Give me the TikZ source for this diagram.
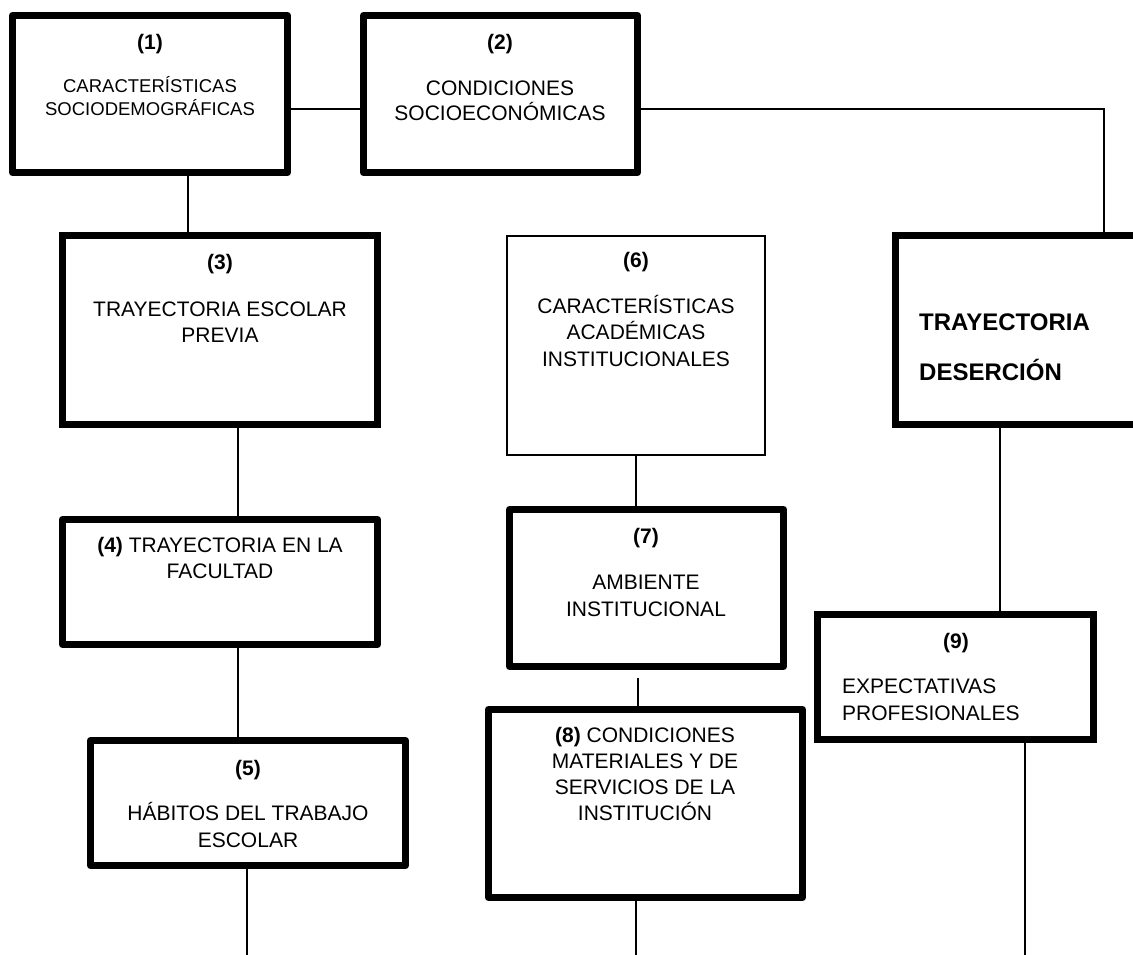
\documentclass[tikz,border=0pt]{standalone}
\usepackage{fontspec}
\setmainfont{Liberation Sans}
\begin{document}
\begin{tikzpicture}[x=1pt,y=-1pt,
  thickbox/.style={draw, rectangle, line width=7pt, line join=round, inner sep=0pt, outer sep=0pt},
  sqbox/.style={draw, rectangle, line width=7pt, line join=miter, inner sep=0pt, outer sep=0pt},
  thinbox/.style={draw, rectangle, line width=2pt, inner sep=0pt, outer sep=0pt},
  link/.style={line width=2pt},
  lbl/.style={inner sep=0pt, anchor=base, font=\fontsize{21}{25}\selectfont},
  lblsmall/.style={inner sep=0pt, anchor=base, font=\fontsize{18.5}{22}\selectfont},
  num/.style={inner sep=0pt, anchor=base, font=\fontsize{21}{25}\selectfont\bfseries},
  lblleft/.style={inner sep=0pt, anchor=base west, font=\fontsize{21}{25}\selectfont},
  big/.style={inner sep=0pt, anchor=base west, font=\fontsize{24}{28}\selectfont\bfseries}]
\useasboundingbox (0,0) rectangle (1133,955);
\fill[white] (0,0) rectangle (1133,955);
\clip (0,0) rectangle (1133,955);

% boxes
\node[thickbox, minimum width=275pt, minimum height=157pt] (b1) at (150,94) {};
\node[thickbox, minimum width=274pt, minimum height=157pt] (b2) at (500.5,94) {};
\node[sqbox, minimum width=315pt, minimum height=189pt] (b3) at (220,330) {};
\node[thinbox, minimum width=258pt, minimum height=219pt] (b6) at (636,345.5) {};
\node[sqbox, minimum width=271pt, minimum height=189pt] (traj) at (1031,330) {};
\node[thickbox, minimum width=315pt, minimum height=125pt] (b4) at (220,582) {};
\node[thickbox, minimum width=315pt, minimum height=125pt] (b5) at (248,803) {};
\node[thickbox, minimum width=274pt, minimum height=157pt] (b7) at (646.5,588) {};
\node[thickbox, minimum width=314pt, minimum height=188pt] (b8) at (645.5,803.5) {};
\node[sqbox, minimum width=276pt, minimum height=125pt] (b9) at (955.5,677) {};

% texts
\node[num] (t1a) at (150,50) {(1)};
\node[lblsmall] (t1b) at (150,93) {CARACTERÍSTICAS};
\node[lblsmall] (t1c) at (150,116) {SOCIODEMOGRÁFICAS};

\node[num] (t2a) at (500,50) {(2)};
\node[lbl] (t2b) at (500,96) {CONDICIONES};
\node[lbl] (t2c) at (500,121) {SOCIOECONÓMICAS};

\node[num] (t3a) at (220,269) {(3)};
\node[lbl] (t3b) at (220,316) {TRAYECTORIA ESCOLAR};
\node[lbl] (t3c) at (220,342) {PREVIA};

\node[num] (t6a) at (636,267) {(6)};
\node[lbl] (t6b) at (636,313) {CARACTERÍSTICAS};
\node[lbl] (t6c) at (636,339) {ACADÉMICAS};
\node[lbl] (t6d) at (636,366) {INSTITUCIONALES};

\node[big] (tta) at (919,330) {TRAYECTORIA};
\node[big] (ttb) at (919,380) {DESERCIÓN};

\node[lbl] (t4a) at (220,552) {{\bfseries (4)} TRAYECTORIA EN LA};
\node[lbl] (t4b) at (220,578) {FACULTAD};

\node[num] (t5a) at (248,775) {(5)};
\node[lbl] (t5b) at (248,820) {HÁBITOS DEL TRABAJO};
\node[lbl] (t5c) at (248,847) {ESCOLAR};

\node[num] (t7a) at (646,543) {(7)};
\node[lbl] (t7b) at (646,589) {AMBIENTE};
\node[lbl] (t7c) at (646,616) {INSTITUCIONAL};

\node[lbl] (t8a) at (645,742) {{\bfseries (8)} CONDICIONES};
\node[lbl] (t8b) at (645,768) {MATERIALES Y DE};
\node[lbl] (t8c) at (645,794) {SERVICIOS DE LA};
\node[lbl] (t8d) at (645,820) {INSTITUCIÓN};

\node[num] (t9a) at (956,648) {(9)};
\node[lblleft] (t9b) at (842,693) {EXPECTATIVAS};
\node[lblleft] (t9c) at (842,720) {PROFESIONALES};

% helper coordinates
\coordinate (h1) at (0,109);
\coordinate (v188) at (188,0);
\coordinate (v238) at (238,0);
\coordinate (v636) at (636,0);
\coordinate (v1104) at (1104,0);
\coordinate (v1000) at (1000,0);
\coordinate (e5) at (247,955);
\coordinate (g7) at (638,678);
\coordinate (e8) at (636,955);
\coordinate (e9) at (1025,955);

% connectors
\draw[link] (b1.east |- h1) -- (b2.west |- h1);
\draw[link] (b2.east |- h1) -| (traj.north -| v1104);
\draw[link] (b1.south -| v188) -- (b3.north -| v188);
\draw[link] (b3.south -| v238) -- (b4.north -| v238);
\draw[link] (b4.south -| v238) -- (b5.north -| v238);
\draw[link] (b5.south -| e5) -- (e5);
\draw[link] (b6.south -| v636) -- (b7.north -| v636);
\draw[link] (g7) -- (b8.north -| g7);
\draw[link] (b8.south -| e8) -- (e8);
\draw[link] (traj.south -| v1000) -- (b9.north -| v1000);
\draw[link] (b9.south -| e9) -- (e9);
\end{tikzpicture}
\end{document}
